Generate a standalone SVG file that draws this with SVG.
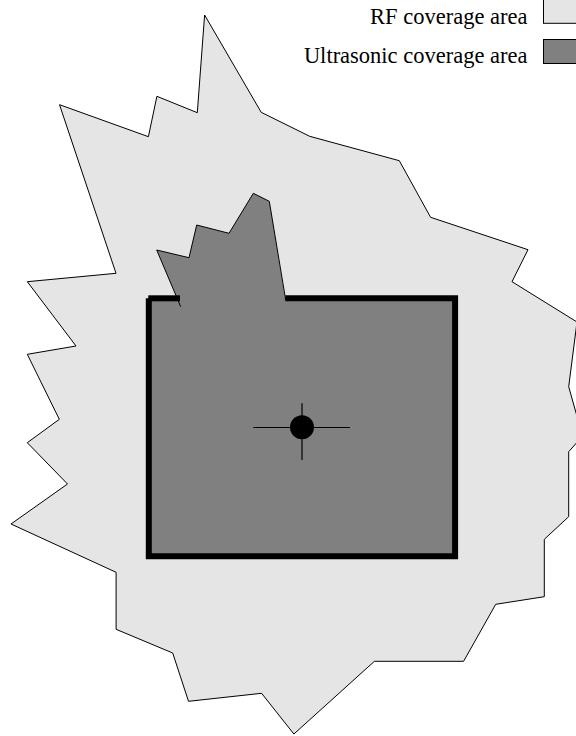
<svg xmlns="http://www.w3.org/2000/svg" width="576" height="736" viewBox="0 0 576 736">
<style>
.lbl{font-family:"Liberation Serif","Times New Roman",serif;font-size:22.5px;fill:#000;text-anchor:end}
.rf{fill:#e5e5e5;stroke:#000;stroke-width:1;stroke-linejoin:miter}
.us{fill:#808080}
.thin{fill:none;stroke:#000;stroke-width:1}
.bar{fill:none;stroke:#000;stroke-width:6;stroke-linecap:butt;stroke-linejoin:miter}
</style>
<rect width="576" height="736" fill="#fff"/>
<g id="rf-area">
<polygon class="rf" points="59.5,104.7 148.4,136.7 156.9,96.3 197.3,112.7 204.6,15 261.2,112.3 309.7,136.3 399.3,160.7 430.6,217.3 528,249.7 512,281.7 577,322 568.7,386.7 580,427 580,439 568.7,451.7 568.7,516.7 544.3,539.3 544.3,596.7 495.7,604.3 463.6,661.3 374.4,661.3 293.9,734 261.6,693.3 188.5,701.3 172.7,653 116.1,629.3 116.1,572.3 11,524 67.5,484 27.3,442.7 59.3,419.3 27.3,354.3 76,346 27.3,281.7 116,273.3"/>
</g>
<g id="ultrasonic-area">
<rect class="us" x="148.8" y="298.3" width="306.3" height="258"/>
<polygon class="us" points="156.7,250 189,257.7 196.7,225 229,233.3 253.3,193.3 269.3,201.3 285.7,302 180.7,302 180.7,306.7"/>
<polyline class="thin" points="180.7,306.7 156.7,250 189,257.7 196.7,225 229,233.3 253.3,193.3 269.3,201.3 285.7,300"/>
</g>
<g id="room-outline">
<line class="bar" x1="180" y1="298.3" x2="148.3" y2="298.3"/>
<polyline class="bar" points="148.8,298.3 148.8,556.3 455.1,556.3 455.1,298.3 285.3,298.3"/>
</g>
<g id="beacon">
<line class="thin" x1="253.3" y1="427.5" x2="350" y2="427.5"/>
<line x1="302" y1="403.3" x2="302" y2="460" stroke="#000" stroke-width="1.2"/>
<circle cx="302" cy="427.3" r="12" fill="#000"/>
</g>
<g id="legend">
<text class="lbl" x="527.5" y="24">RF coverage area</text>
<rect x="543.5" y="-1" width="48" height="24.3" fill="#e5e5e5" stroke="#000" stroke-width="1"/>
<text class="lbl" x="527.5" y="63">Ultrasonic coverage area</text>
<rect x="543.5" y="39.5" width="48" height="24" fill="#808080" stroke="#000" stroke-width="1"/>
</g>
</svg>
